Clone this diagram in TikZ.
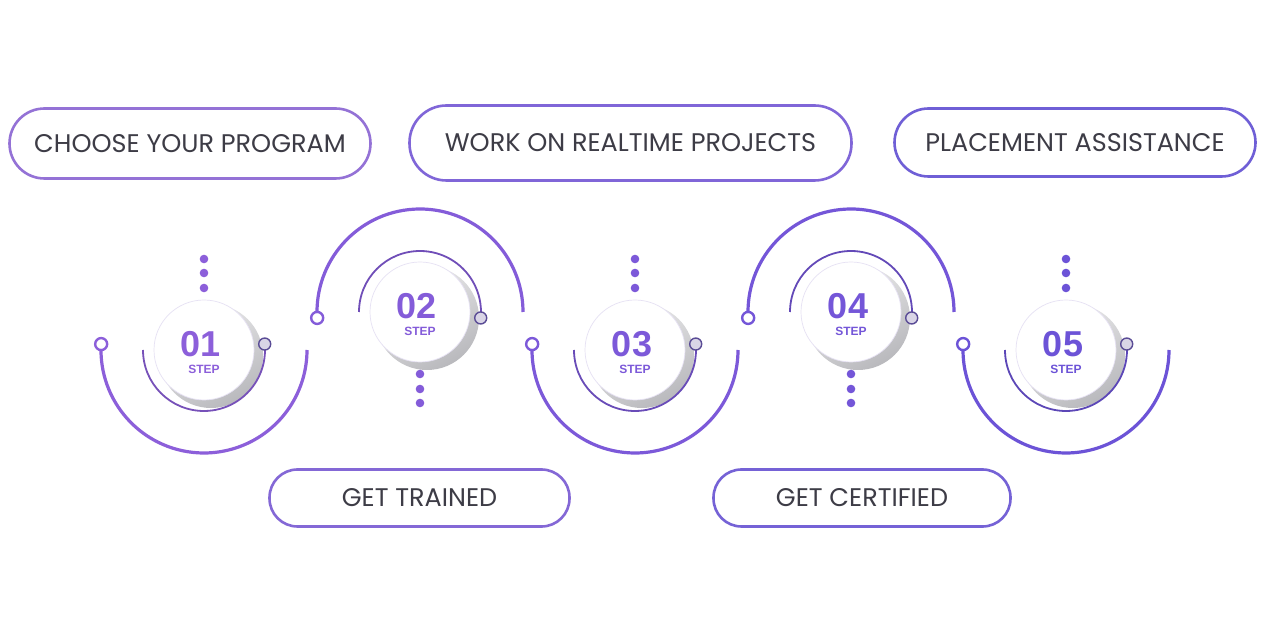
\documentclass[tikz,border=0pt]{standalone}
\usepackage{fontspec}
\setmainfont{Poppins}
\newfontfamily\numfont{Liberation Sans}
\definecolor{txtgray}{HTML}{3D3C46}
\definecolor{cA}{HTML}{8C5FDA}
\definecolor{cB}{HTML}{845CD9}
\definecolor{cC}{HTML}{7C59D9}
\definecolor{cD}{HTML}{7456D8}
\definecolor{cE}{HTML}{6C53D7}
\definecolor{pA}{HTML}{9472D6}
\definecolor{pB}{HTML}{8066D8}
\definecolor{pC}{HTML}{6F5FD6}
\definecolor{pD}{HTML}{8468D6}
\definecolor{pE}{HTML}{7562D6}
\definecolor{shadowgray}{HTML}{B9B9BD}
\definecolor{discedge}{HTML}{E6E1F3}
\definecolor{ringfill}{HTML}{D9D5E6}
\definecolor{ringedge}{HTML}{5A4C96}
\tikzset{
  pillbox/.style={draw, line width=2.6pt, inner sep=0pt, text=txtgray,
    font=\fontsize{25.5}{30}\selectfont},
  outerring/.style={circle, fill=white, line width=2.4pt, minimum size=12pt, inner sep=0pt},
  innerring/.style={circle, fill=ringfill, draw=ringedge, line width=1.4pt, minimum size=12pt, inner sep=0pt},
  dotmark/.style={circle, minimum size=8.6pt, inner sep=0pt},
  numtext/.style={inner sep=0pt, font=\numfont\bfseries\fontsize{36}{36}\selectfont},
  steptext/.style={inner sep=0pt, font=\numfont\bfseries\fontsize{12}{12}\selectfont},
}
\newcommand\stepunit[6]{%
  \begin{scope}[shift={(#2,#3)}]
    \shade[top color=shadowgray!25, bottom color=shadowgray, shading angle=30] (7,-6) circle[radius=52pt];
    \fill[white] (0,0) circle[radius=50pt];
    \draw[discedge, line width=0.7pt] (0,0) circle[radius=50pt];
    \ifnum#6=0
      \draw[#5, line width=3.2pt] (176.7:103pt) arc[start angle=176.7, end angle=360, radius=103pt];
      \draw[#5!85!black, line width=1.8pt] (180:61pt) arc[start angle=180, end angle=365.6, radius=61pt];
      \node[outerring, draw=#5] (#1o) at (176.7:103pt) {};
      \node[innerring] (#1i) at (5.6:61pt) {};
      \node[dotmark, fill=#5] (#1d1) at (0,91) {};
      \node[dotmark, fill=#5] (#1d2) at (0,77) {};
      \node[dotmark, fill=#5] (#1d3) at (0,62) {};
    \else
      \draw[#5, line width=3.2pt] (183.3:103pt) arc[start angle=183.3, end angle=0, radius=103pt];
      \draw[#5!85!black, line width=1.8pt] (180:61pt) arc[start angle=180, end angle=-5.6, radius=61pt];
      \node[outerring, draw=#5] (#1o) at (183.3:103pt) {};
      \node[innerring] (#1i) at (-5.6:61pt) {};
      \node[dotmark, fill=#5] (#1d1) at (0,-62) {};
      \node[dotmark, fill=#5] (#1d2) at (0,-77) {};
      \node[dotmark, fill=#5] (#1d3) at (0,-91) {};
    \fi
    \node[numtext, text=#5] (#1n) at (-3,6) {#4};
    \node[steptext, text=#5] (#1s) at (0,-19) {STEP};
  \end{scope}%
}
\begin{document}
\begin{tikzpicture}[x=1pt,y=1pt]
\useasboundingbox (0,0) rectangle (1280,640);
\fill[white] (0,0) rectangle (1280,640);

\stepunit{sa}{204}{290}{01}{cA}{0}
\stepunit{sb}{420}{328}{02}{cB}{1}
\stepunit{sc}{635}{290}{03}{cC}{0}
\stepunit{sd}{851}{328}{04}{cD}{1}
\stepunit{se}{1066}{290}{05}{cE}{0}

\node[pillbox, draw=pA, minimum width=361pt, minimum height=70pt, rounded corners=35pt] (pa) at (190,496.5) {CHOOSE YOUR PROGRAM};
\node[pillbox, draw=pB, minimum width=442pt, minimum height=75pt, rounded corners=37pt] (pb) at (630.5,497) {WORK ON REALTIME PROJECTS};
\node[pillbox, draw=pC, minimum width=361pt, minimum height=68pt, rounded corners=34pt] (pc) at (1075,497.5) {PLACEMENT ASSISTANCE};
\node[pillbox, draw=pD, minimum width=300pt, minimum height=57pt, rounded corners=28pt] (pd) at (419.5,142) {GET TRAINED};
\node[pillbox, draw=pE, minimum width=297pt, minimum height=57pt, rounded corners=28pt] (pe) at (862,142) {GET CERTIFIED};
\end{tikzpicture}
\end{document}
